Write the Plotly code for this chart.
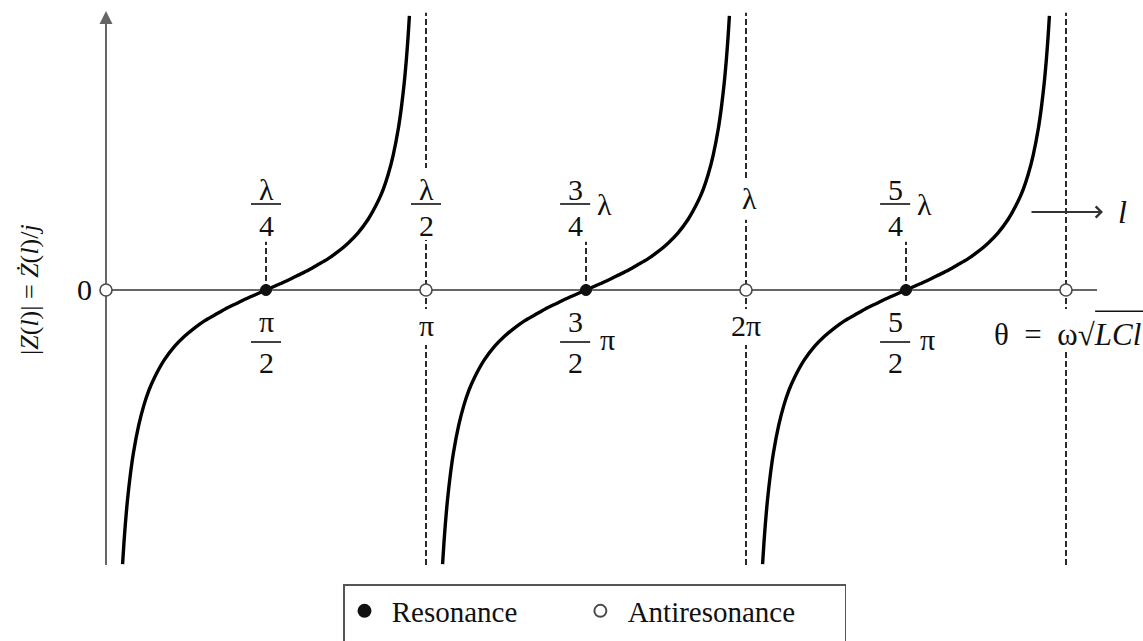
import plotly.graph_objects as go

# Special angles, in units of pi
resonance_theta = [0.5, 1.5, 2.5]
antiresonance_theta = [0.0, 1.0, 2.0, 3.0]

# Shape of one reactance branch around its resonance:
# angular offset from the resonance (rad) and the normalised reactance
branch_offset = [-1.408, -1.395, -1.38, -1.36, -1.33, -1.30, -1.25, -1.20, -1.15, -1.10,
                 -1.00, -0.90, -0.80, -0.70, -0.60, -0.50, -0.40, -0.30, -0.20, -0.10,
                 0.00, 0.10, 0.20, 0.30, 0.40, 0.50, 0.60, 0.70, 0.80, 0.90,
                 1.00, 1.10, 1.15, 1.20, 1.25, 1.30, 1.33, 1.36, 1.38, 1.395, 1.408]
branch_value = [-6.09, -5.63, -5.18, -4.67, -4.07, -3.60, -3.01, -2.57, -2.23, -1.97,
                -1.56, -1.26, -1.03, -0.84, -0.68, -0.55, -0.42, -0.31, -0.20, -0.10,
                0.00, 0.10, 0.20, 0.31, 0.42, 0.55, 0.68, 0.84, 1.03, 1.26,
                1.56, 1.97, 2.23, 2.57, 3.01, 3.60, 4.07, 4.67, 5.18, 5.63, 6.09]

# Length labels above the resonances (numerator, denominator, trailing symbol)
res_top_labels = [("λ", "4", ""), ("3", "4", "λ"), ("5", "4", "λ")]
# Electrical angle labels below the resonances
res_bottom_labels = [("π", "2", ""), ("3", "2", "π"), ("5", "2", "π")]
# Labels at the antiresonances
anti_top_labels = [None, ("λ", "2"), "λ", None]
anti_bottom_labels = [None, "π", "2π", "θ\u00a0 = \u00a0ω√<i>LCl</i>"]

legend_names = ["Resonance", "Antiresonance"]

SERIF = "Liberation Serif"
INK = "#111111"
AXIS = "#666666"
DASH = "#2a2a2a"
NB = "\u00a0"

X_RANGE = [-0.33125, 3.240625]
Y_RANGE = [-7.8, 6.444]
Y_TOP, Y_BOTTOM = 6.16, -6.11
X_END = 3.097
PI = 3.141592653589793

fig = go.Figure()

# Reactance branches, one per half-period between antiresonances
for th in resonance_theta:
    fig.add_trace(go.Scatter(
        x=[th + d / PI for d in branch_offset],
        y=branch_value,
        mode="lines",
        line=dict(color="black", width=3.4, shape="spline", smoothing=0.8),
        showlegend=False, hoverinfo="skip",
    ))

# Resonance / antiresonance points
fig.add_trace(go.Scatter(
    x=resonance_theta, y=[0] * len(resonance_theta), mode="markers",
    marker=dict(size=11, color="#111111", line=dict(color="#111111", width=1)),
    name=NB + legend_names[0] + NB * 8 + "<br> ", hoverinfo="skip",
))
fig.add_trace(go.Scatter(
    x=antiresonance_theta, y=[0] * len(antiresonance_theta), mode="markers",
    marker=dict(size=12, color="white", line=dict(color="#4a4a4a", width=1.6)),
    name=NB + legend_names[1] + NB * 6 + "<br> ", hoverinfo="skip",
))

shapes = []
# dashed guides through the antiresonances
for th in antiresonance_theta[1:]:
    shapes.append(dict(type="line", x0=th, x1=th, y0=Y_BOTTOM, y1=Y_TOP, layer="below",
                       line=dict(color=DASH, width=2, dash="6px,3px")))
# short dashed ticks above the resonances
for th in resonance_theta:
    shapes.append(dict(type="line", x0=th, x1=th, y0=0, y1=1.07, layer="below",
                       line=dict(color=DASH, width=2, dash="6px,3px")))

# white gaps in the guides where the labels sit
gaps = [(1.0, 1.11, 2.71), (2.0, 1.56, 2.44),
        (1.0, -1.22, -0.42), (2.0, -1.22, -0.42), (3.0, -1.38, -0.42)]
for th, g0, g1 in gaps:
    shapes.append(dict(type="rect", x0=th - 0.07, x1=th + 0.07, y0=g0, y1=g1, layer="below",
                       fillcolor="white", line=dict(width=0)))

# axes
shapes.append(dict(type="line", x0=0, x1=X_END, y0=0, y1=0, layer="below",
                   line=dict(color=AXIS, width=2)))
shapes.append(dict(type="line", x0=0, x1=0, y0=Y_BOTTOM, y1=6.05, layer="below",
                   line=dict(color=AXIS, width=2)))

annotations = []


def text(x, y, s, size=30, **kw):
    annotations.append(dict(x=x, y=y, text=s, showarrow=False,
                            font=dict(family=SERIF, size=size, color=INK), **kw))


def fraction(xc, ybar, num, den, up, down, half=0.047):
    text(xc, ybar + up, num)
    text(xc, ybar - down, den)
    shapes.append(dict(type="line", x0=xc - half, x1=xc + half, y0=ybar, y1=ybar,
                       line=dict(color=INK, width=1.6)))


TOP_BAR, BOT_BAR = 1.911, -1.156
FRAC_DX, SIDE_DX = -0.034, 0.058

for th, (n, d, s) in zip(resonance_theta, res_top_labels):
    xc = th if not s else th + FRAC_DX
    fraction(xc, TOP_BAR, n, d, 0.33, 0.47)
    if s:
        text(th + SIDE_DX, 1.889, s)

for th, (n, d, s) in zip(resonance_theta, res_bottom_labels):
    xc = th if not s else th + FRAC_DX
    fraction(xc, BOT_BAR, n, d, 0.445, 0.466)
    if s:
        text(th + SIDE_DX + 0.008, -1.111, s)

for th, lab in zip(antiresonance_theta, anti_top_labels):
    if isinstance(lab, tuple):
        fraction(th, TOP_BAR, lab[0], lab[1], 0.33, 0.47)
    elif lab:
        text(th + 0.01, 2.044, lab)

for th, lab in zip(antiresonance_theta, anti_bottom_labels):
    if lab is None:
        continue
    if th == 3.0:
        text(3.240625, -1.0, lab, xanchor="right", size=31)
    else:
        text(th, -0.778, lab)

# overline of the square root
shapes.append(dict(type="line", x0=3.091, x1=3.240625, y0=-0.47, y1=-0.47,
                   line=dict(color=INK, width=1.5)))

# origin label and y-axis title
text(-0.06875, 0, "0")
text(-0.2375, 0, "|<i>Z</i>(<i>l</i>)| = <i>Ż</i>(<i>l</i>)/<i>j</i>", size=26, textangle=-90)

# y-axis arrow head
annotations.append(dict(x=0, y=6.2, ax=0, ay=5.6, xref="x", yref="y", axref="x", ayref="y",
                        showarrow=True, arrowhead=2, arrowsize=1.3, arrowwidth=2,
                        arrowcolor=AXIS, text=""))
# direction of increasing line length
annotations.append(dict(x=3.1156, y=1.733, ax=2.8875, ay=1.733, xref="x", yref="y",
                        axref="x", ayref="y", showarrow=True, arrowhead=4, arrowsize=1.2,
                        arrowwidth=1.8, arrowcolor="#333333", text=""))
text(3.175, 1.733, "<i>l</i>", size=32)

fig.update_layout(
    width=1143, height=641,
    margin=dict(l=0, r=0, t=0, b=0, autoexpand=False),
    paper_bgcolor="white", plot_bgcolor="white",
    xaxis=dict(range=X_RANGE, visible=False, fixedrange=True),
    yaxis=dict(range=Y_RANGE, visible=False, fixedrange=True),
    shapes=shapes, annotations=annotations,
    showlegend=True,
    legend=dict(orientation="h", x=343 / 1143, y=1 - 584 / 641, xanchor="left", yanchor="top",
                bordercolor="#555555", borderwidth=1.5, bgcolor="white",
                font=dict(family=SERIF, size=29, color=INK), valign="top",
                itemsizing="constant"),
    hovermode=False,
)

fig.write_html("out.html")
